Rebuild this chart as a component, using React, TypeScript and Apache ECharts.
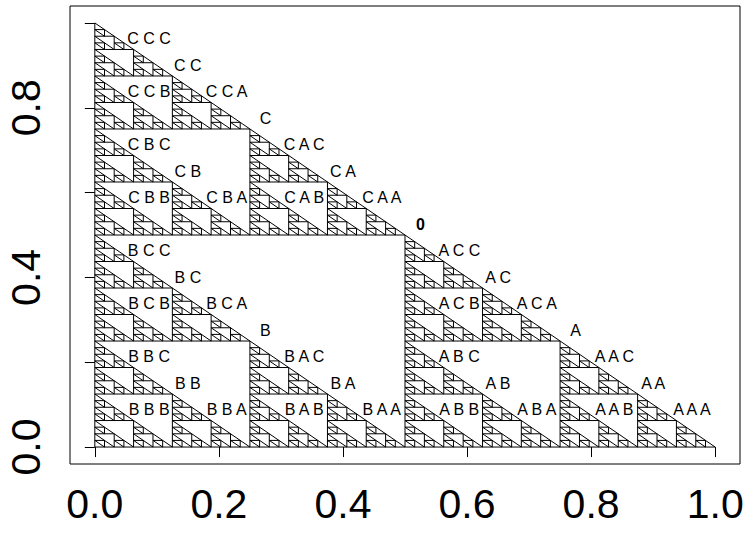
import React, { useEffect, useRef } from "react";
import * as echarts from "echarts";

// Outer right triangle: [x0, y0, size] (right angle at (x0, y0))
const outerTriangle: number[] = [0, 0, 1];
// Number of subdivision levels drawn
const subdivisionDepth = 6;

// Axis ticks and labels
const xTicks = [0, 0.2, 0.4, 0.6, 0.8, 1.0];
const xTickLabels = [0, 0.2, 0.4, 0.6, 0.8, 1.0];
const yTicks = [0, 0.2, 0.4, 0.6, 0.8, 1.0];
const yTickLabels = [0, 0.4, 0.8];

// Address labels (A = lower right, B = lower left, C = top sub-triangle)
const rootLabel = ["0"];
const level1Labels = ["A", "B", "C"];
const level2Labels = ["AA", "AB", "AC", "BA", "BB", "BC", "CA", "CB", "CC"];
const level3Labels = [
  "AAA", "AAB", "AAC", "ABA", "ABB", "ABC", "ACA", "ACB", "ACC",
  "BAA", "BAB", "BAC", "BBA", "BBB", "BBC", "BCA", "BCB", "BCC",
  "CAA", "CAB", "CAC", "CBA", "CBB", "CBC", "CCA", "CCB", "CCC",
];
const labelOffset = 0.025;

const FONT = "'Liberation Sans', Arial, Helvetica, sans-serif";

function buildPolygons(): number[][] {
  const [x0, y0, s0] = outerTriangle;
  const polys: number[][] = [[x0, y0, x0 + s0, y0, x0, y0 + s0]];
  const rec = (x: number, y: number, s: number, level: number) => {
    const h = s / 2;
    polys.push([x + h, y, x + h, y + h, x, y + h]);
    if (level + 1 < subdivisionDepth) {
      rec(x + h, y, h, level + 1);
      rec(x, y, h, level + 1);
      rec(x, y + h, h, level + 1);
    }
  };
  rec(x0, y0, s0, 0);
  return polys;
}

function labelPoint(code: string): [number, number, string, number] {
  let [x, y, s] = outerTriangle;
  if (code !== "0") {
    for (const ch of code) {
      const h = s / 2;
      if (ch === "A") x = x + h;
      else if (ch === "C") y = y + h;
      s = h;
    }
  }
  return [
    x + s / 2 + labelOffset,
    y + s / 2 + labelOffset,
    code === "0" ? "0" : code.split("").join(" "),
    code === "0" ? 1 : 0,
  ];
}

export default function App() {
  const ref = useRef<HTMLDivElement>(null);
  useEffect(() => {
    document.body.style.margin = "0";
    if (!ref.current) return;
    const chart = echarts.init(ref.current, undefined, { renderer: "svg" });
    const polygons = buildPolygons();
    const labels = [...rootLabel, ...level1Labels, ...level2Labels, ...level3Labels].map(labelPoint);

    chart.setOption({
      animation: false,
      backgroundColor: "#fff",
      grid: {
        left: 70,
        right: 8,
        top: 6,
        bottom: 69,
        show: true,
        borderColor: "#000",
        borderWidth: 1,
        backgroundColor: "transparent",
      },
      xAxis: {
        type: "value",
        min: -0.04,
        max: 1.04,
        splitLine: { show: false },
        axisLine: { show: false },
        axisTick: {
          show: true,
          customValues: xTicks,
          length: 10,
          lineStyle: { color: "#000", width: 1 },
        },
        axisLabel: {
          customValues: xTickLabels,
          formatter: (v: number) => v.toFixed(1),
          fontSize: 41,
          fontFamily: FONT,
          color: "#000",
          margin: 19,
        },
      },
      yAxis: {
        type: "value",
        min: -0.04,
        max: 1.04,
        splitLine: { show: false },
        axisLine: { show: false },
        axisTick: {
          show: true,
          customValues: yTicks,
          length: 10,
          lineStyle: { color: "#000", width: 1 },
        },
        axisLabel: {
          customValues: yTickLabels,
          formatter: (v: number) => v.toFixed(1),
          fontSize: 41,
          fontFamily: FONT,
          color: "#000",
          rotate: 90,
          margin: 24,
        },
      },
      series: [
        {
          type: "custom",
          coordinateSystem: "cartesian2d",
          data: polygons,
          encode: { x: [0, 2, 4], y: [1, 3, 5] },
          renderItem: (params: any, api: any) => {
            const pts = [
              api.coord([api.value(0), api.value(1)]),
              api.coord([api.value(2), api.value(3)]),
              api.coord([api.value(4), api.value(5)]),
            ];
            return {
              type: "polygon",
              shape: { points: pts },
              style: { fill: "none", stroke: "#000", lineWidth: 1 },
            };
          },
          silent: true,
          z: 2,
        },
        {
          type: "custom",
          coordinateSystem: "cartesian2d",
          data: labels,
          encode: { x: 0, y: 1 },
          renderItem: (params: any, api: any) => {
            const p = api.coord([api.value(0), api.value(1)]);
            const item = labels[params.dataIndex];
            return {
              type: "text",
              x: p[0],
              y: p[1],
              style: {
                text: item[2],
                fill: "#000",
                fontSize: 16,
                fontFamily: FONT,
                fontWeight: item[3] ? "bold" : "normal",
                align: "center",
                verticalAlign: "middle",
              },
            };
          },
          silent: true,
          z: 3,
        },
      ],
    });
    return () => chart.dispose();
  }, []);
  return <div ref={ref} style={{ width: 748, height: 533 }} />;
}
